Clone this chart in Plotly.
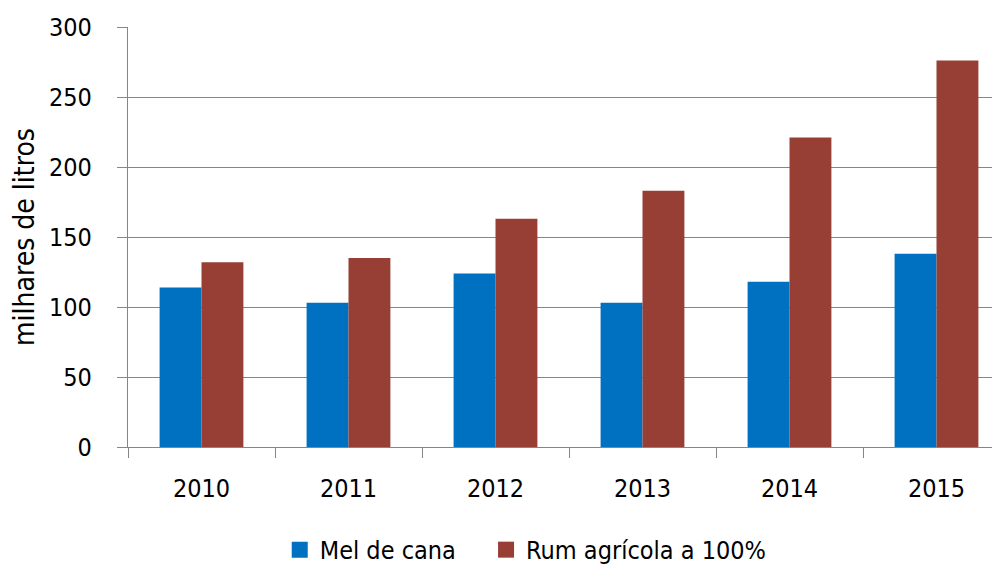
import plotly.graph_objects as go

years = ["2010", "2011", "2012", "2013", "2014", "2015"]
mel_de_cana = [114, 103, 124, 103, 118, 138]
rum_agricola = [132, 135, 163, 183, 221, 276]
y_ticks = [0, 50, 100, 150, 200, 250, 300]
series_names = ["Mel de cana", "Rum agrícola a 100%"]
series_colors = ["#0070C0", "#973E35"]

FONT = "DejaVu Sans Condensed, Open Sans, sans-serif"

fig = go.Figure()
for name, vals, col in zip(series_names, [mel_de_cana, rum_agricola], series_colors):
    fig.add_trace(go.Bar(x=years, y=vals, name=name, showlegend=False,
                         marker=dict(color=col, line=dict(width=0))))
# legend proxies (square swatches), one legend each for exact placement
for i, (name, col) in enumerate(zip(series_names, series_colors)):
    fig.add_trace(go.Scatter(x=[None], y=[None], mode="markers", name=name,
                             legend="legend" if i == 0 else "legend2",
                             marker=dict(symbol="square", size=18, color=col)))

leg_common = dict(orientation="h", xref="paper", yref="paper", y=-0.245,
                  xanchor="left", yanchor="middle", font=dict(size=25),
                  itemwidth=30, bgcolor="rgba(0,0,0,0)")

fig.update_layout(
    width=1000, height=564,
    margin=dict(l=120, r=8, t=19, b=125, autoexpand=False),
    plot_bgcolor="white", paper_bgcolor="white",
    font=dict(family=FONT, size=25, color="#000000"),
    barmode="group", bargap=0.43, bargroupgap=0,
    showlegend=True,
    legend=dict(x=0.174, **leg_common),
    legend2=dict(x=0.4106, **leg_common),
)
fig.update_xaxes(
    type="category", range=[-0.5, 5.432], automargin=False,
    showline=True, linecolor="#868686", linewidth=1.3,
    ticks="outside", tickson="boundaries", ticklen=10, tickcolor="#868686", tickwidth=1.3,
    showgrid=False, ticklabelstandoff=19,
)
fig.update_yaxes(
    range=[0, 300], tickvals=y_ticks, automargin=False,
    showline=True, linecolor="#868686", linewidth=1.3,
    ticks="outside", ticklen=10, tickcolor="#868686", tickwidth=1.3,
    showgrid=True, gridcolor="#868686", gridwidth=1.3,
    zeroline=False, ticklabelstandoff=20,
    title=dict(text="milhares de litros", standoff=14, font=dict(size=28)),
)

fig.write_html("out.html")
